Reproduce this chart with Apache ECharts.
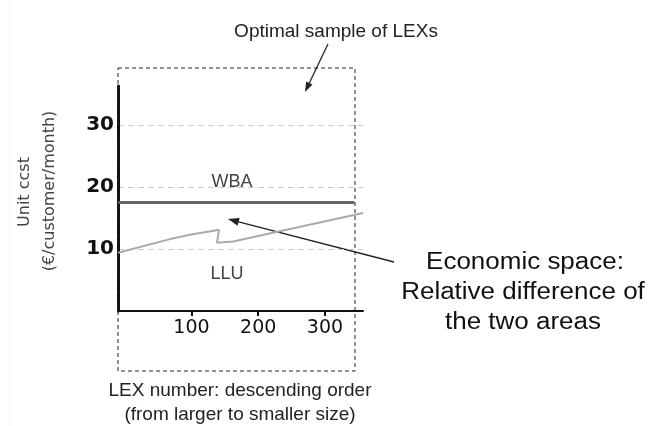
<!DOCTYPE html>
<html>
<head>
<meta charset="utf-8">
<script src="https://cdn.jsdelivr.net/npm/echarts@6/dist/echarts.min.js"></script>
<style>
	html, body { margin: 0; padding: 0; background: #fff; }
	#chart { width: 658px; height: 426px; }
</style>
</head>
<body>
<div id="chart"></div>
<script>
// values
const xTicks = [100, 200, 300];
const yTicks = [10, 20, 30];
const wbaX = [-10, 344];
const wbaY = [17.5, 17.5];
const lluX = [-10, 67.9, 97.8, 135.3, 141.3, 138.3, 162.3, 357];
const lluY = [9.4, 11.6, 12.3, 13.0, 13.1, 11.0, 11.2, 15.8];

const zip = (xs, ys) => xs.map((x, i) => [x, ys[i]]);

// arrow = a line plus a filled head
function arrow(tail, tip, len, half) {
	const dx = tip[0] - tail[0], dy = tip[1] - tail[1];
	const d = Math.sqrt(dx * dx + dy * dy);
	const ux = dx / d, uy = dy / d;
	const bx = tip[0] - ux * len, by = tip[1] - uy * len;
	return [
		{type: 'line', shape: {x1: tail[0], y1: tail[1], x2: bx, y2: by}, style: {stroke: '#222', lineWidth: 1.3}},
		{type: 'polygon', shape: {points: [tip, [bx - uy * half, by + ux * half], [bx + uy * half, by - ux * half]]}, style: {fill: '#222'}}
	];
}

function txt(x, y, text, size, color, extra, family) {
	return Object.assign({
		type: 'text', x: x, y: y, z: 10,
		style: {text: text, fill: color, fontSize: size, fontFamily: family || 'Liberation Sans', textAlign: 'center', textVerticalAlign: 'middle'}
	}, extra || {});
}

const chart = echarts.init(document.getElementById('chart'));

const option = {
	backgroundColor: '#fff',
	animation: false,
	grid: {left: 118, right: 295, top: 86, bottom: 115},
	xAxis: {
		type: 'value',
		min: -10,
		max: 357,
		axisLine: {lineStyle: {color: '#111', width: 2}},
		axisTick: {customValues: xTicks, length: 5, lineStyle: {color: '#111', width: 2}},
		axisLabel: {customValues: xTicks, fontSize: 19, color: '#111', margin: 8, fontFamily: 'DejaVu Sans'},
		splitLine: {show: false}
	},
	yAxis: {
		type: 'value',
		min: 0,
		max: 36.3,
		axisLine: {show: true, onZero: false, lineStyle: {color: '#111', width: 3}},
		axisTick: {show: false, customValues: yTicks},
		axisLabel: {customValues: yTicks, fontSize: 20, fontWeight: 'bold', color: '#111', margin: 4, fontFamily: 'DejaVu Sans'},
		splitLine: {show: true, lineStyle: {type: [6, 4], color: '#ccc', width: 1}}
	},
	series: [
		{
			name: 'WBA',
			type: 'line',
			data: zip(wbaX, wbaY),
			symbol: 'none',
			lineStyle: {color: '#666', width: 3},
			z: 3
		},
		{
			name: 'LLU',
			type: 'line',
			data: zip(lluX, lluY),
			symbol: 'none',
			clip: false,
			lineStyle: {color: '#aaa', width: 2},
			z: 3
		}
	],
	graphic: [
		{type: 'line', shape: {x1: 10, y1: 0, x2: 10, y2: 426}, style: {stroke: '#f2f2f2', lineWidth: 1}},
		{type: 'rect', z: 5, shape: {x: 118, y: 68, width: 237, height: 303}, style: {fill: 'none', stroke: '#222', lineWidth: 1, lineDash: [4, 3]}},
		txt(336, 32, 'Optimal sample of LEXs', 19, '#222'),
		txt(232, 182, 'WBA', 18, '#444'),
		txt(227, 274, 'LLU', 18, '#444'),
		txt(240, 391, 'LEX number: descending order', 19, '#222'),
		txt(240, 415, '(from larger to smaller size)', 19, '#222'),
		txt(525, 263, 'Economic space:', 23, '#111', {scaleX: 1.13}),
		txt(523, 293, 'Relative difference of', 23, '#111', {scaleX: 1.13}),
		txt(523, 323, 'the two areas', 23, '#111', {scaleX: 1.13}),
		txt(25, 192, 'Unit ccst', 16, '#444', {rotation: Math.PI / 2}, 'DejaVu Sans'),
		txt(50, 191, '(€/customer/month)', 16, '#444', {rotation: Math.PI / 2}, 'DejaVu Sans'),
		...arrow([328, 44], [305, 92], 10, 3.5),
		...arrow([394, 262], [228, 219], 11, 4)
	]
};

option && chart.setOption(option);
</script>
</body>
</html>
